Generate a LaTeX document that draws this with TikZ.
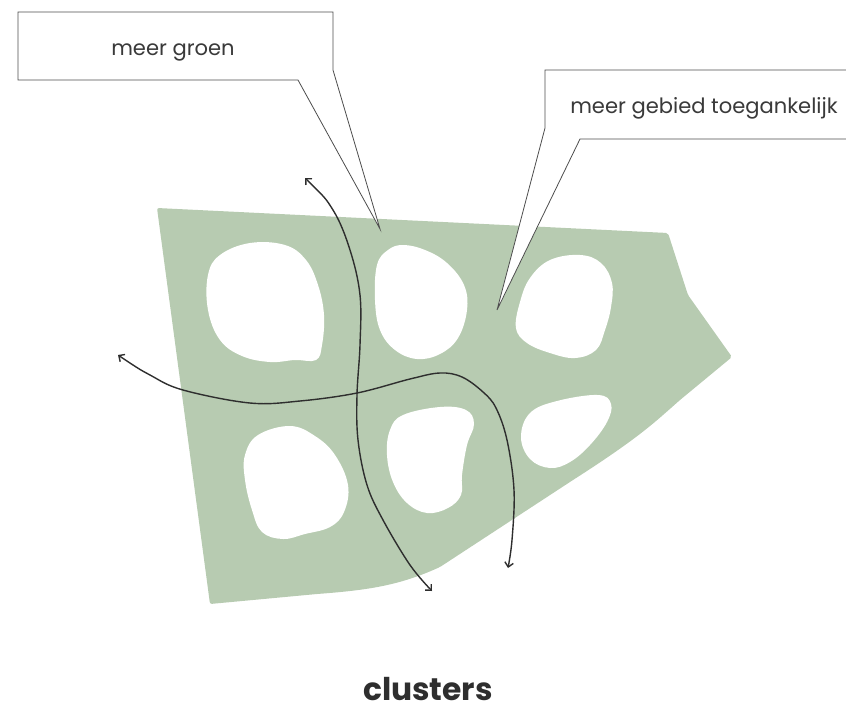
\documentclass[tikz,border=0pt]{standalone}
\usepackage{fontspec}
\setmainfont{Poppins}
\usetikzlibrary{arrows.meta}
\definecolor{grn}{HTML}{B7CBB1}
\definecolor{ink}{HTML}{2E2E2E}
\definecolor{lbl}{HTML}{3A3A3A}
\tikzset{
  hole/.style={fill=white,draw=none},
  callout/.style={draw=ink!85,line width=0.6pt,fill=white,line join=miter},
  flow/.style={draw=ink,line width=1.05pt,{Straight Barb[length=3.4pt,width=6.5pt]}-{Straight Barb[length=3.4pt,width=6.5pt]}},
  lbltext/.style={text=lbl,font=\fontsize{15.8}{18}\selectfont,inner sep=0pt}
}
\begin{document}
\begin{tikzpicture}[x=0.75pt,y=-0.75pt]
\useasboundingbox (0,0) rectangle (846,711);
% green area
\fill[grn,rounded corners=1.5pt] (157,208) -- (668,233) -- (688,295) -- (732,357) -- (680,400)
  .. controls (655,422) and (640,437) .. (573,480) -- (440,567)
  .. controls (400,585) and (370,590) .. (317,594) -- (210,604) -- cycle;
% holes
\fill[hole] plot[smooth cycle,tension=0.65] coordinates {(250,243) (285,245) (306,260) (318,285) (324,315) (322,345) (316,360) (295,360) (270,362) (242,356) (220,340) (208,310) (208,275) (220,255)};
\fill[hole] plot[smooth cycle,tension=0.65] coordinates {(403,245) (425,250) (447,263) (464,285) (467,310) (458,338) (440,354) (417,359) (395,350) (380,330) (375,300) (377,265) (388,250)};
\fill[hole] plot[smooth cycle,tension=0.65] coordinates {(580,255) (601,263) (612,283) (611,307) (605,330) (596,350) (575,358) (550,353) (527,343) (516,328) (520,302) (530,278) (550,260)};
\fill[hole] plot[smooth cycle,tension=0.65] coordinates {(290,426) (315,436) (335,455) (348,485) (344,512) (330,527) (305,534) (283,539) (262,532) (252,510) (245,480) (245,455) (258,435)};
\fill[hole] plot[smooth cycle,tension=0.65] coordinates {(403,415) (440,407) (466,410) (474,424) (467,445) (462,475) (461,495) (448,508) (427,513) (407,503) (393,482) (387,455) (390,430)};
\fill[hole] plot[smooth cycle,tension=0.65] coordinates {(557,401) (598,395) (611,404) (607,422) (590,445) (570,462) (550,468) (530,459) (521,437) (530,413)};
% callouts
\draw[callout] (18,12) -- (333,12) -- (333,70) -- (380,229) -- (298,80) -- (18,80) -- cycle;
\fill[white] (846,70) -- (545,70) -- (545,128) -- (497,310) -- (580,139) -- (846,139) -- cycle;
\draw[callout,fill=none] (850,139) -- (580,139) -- (497,310) -- (545,128) -- (545,70) -- (850,70);
\node[lbltext] (groen) at (173,52) {meer groen};
\node[lbltext] (toeg) at (704,108) {meer gebied toegankelijk};
% flows
\coordinate (hA) at (118,355);
\coordinate (hB) at (508,568);
\coordinate (vA) at (305,178);
\coordinate (vB) at (432,591);
\draw[flow] plot[smooth,tension=0.6] coordinates {(hA) (150,375) (183,390) (250,403) (300,401) (357,393) (410,379) (440,373) (462,377) (483,392) (496,408) (507,440) (514,490) (512,540) (hB)};
\draw[flow] plot[smooth,tension=0.6] coordinates {(vA) (333,210) (350,250) (360,295) (360,345) (357,395) (358,440) (367,485) (383,520) (410,565) (vB)};
% title
\node[text=ink,font=\fontsize{23.5}{28}\selectfont\bfseries,inner sep=0pt] (title) at (428,689) {clusters};
\end{tikzpicture}
\end{document}
